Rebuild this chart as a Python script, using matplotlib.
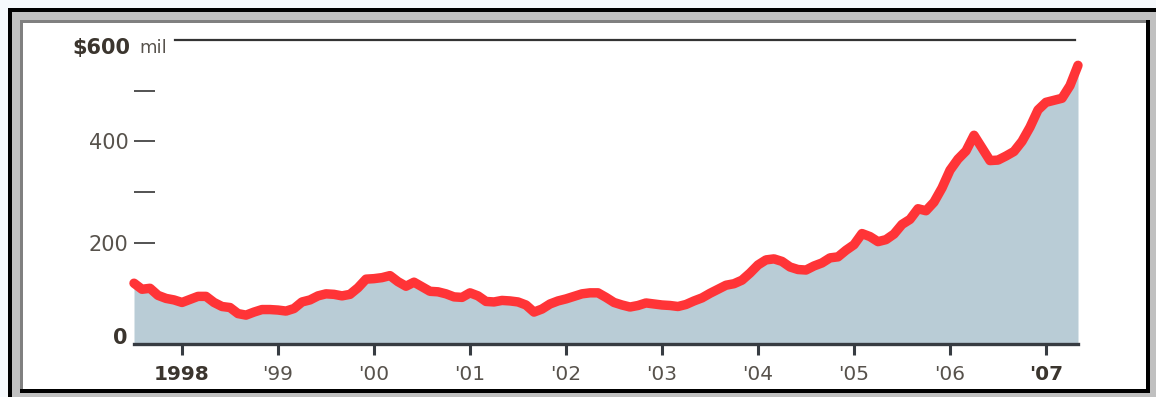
import numpy as np
import matplotlib
matplotlib.use('Agg')
import matplotlib.pyplot as plt
from matplotlib.patches import Rectangle

# monthly values, Jul 1997 .. May 2007, in $ millions
start_year = 1997.5
values = [120, 108, 110, 96, 90, 87, 82, 88, 94, 94, 82, 74,
          72, 60, 57, 63, 68, 68, 67, 65, 70, 83, 87, 95,
          99, 98, 95, 98, 111, 128, 129, 131, 135, 123, 114, 122,
          113, 104, 103, 99, 93, 92, 101, 95, 84, 83, 86, 85,
          83, 77, 63, 69, 79, 85, 89, 94, 99, 101, 101, 92,
          82, 77, 73, 76, 81, 79, 77, 76, 74, 78, 85, 91,
          100, 108, 116, 119, 126, 140, 156, 166, 168, 163, 152, 147,
          146, 154, 160, 170, 172, 185, 196, 218, 212, 202, 206, 217,
          236, 246, 267, 263, 280, 308, 343, 365, 381, 412, 387, 362,
          363, 371, 380, 400, 428, 462, 477, 481, 485, 510, 550]
years = [1998, 1999, 2000, 2001, 2002, 2003, 2004, 2005, 2006, 2007]
year_labels = ['1998', "'99", "'00", "'01", "'02", "'03", "'04", "'05", "'06", "'07"]
bold_years = [1998, 2007]

x = start_year + np.arange(len(values))/12.0
vals = np.array(values, dtype=float)

W, H = 1156, 397
fig = plt.figure(figsize=(W/100, H/100), dpi=100)
fig.patch.set_facecolor('#f6f9fc')

def prect(x0, y0, x1, y1, c):
    # rectangle in pixel coords (y down from top)
    fig.patches.append(Rectangle((x0/W, 1 - y1/H), (x1-x0)/W, (y1-y0)/H,
                                 transform=fig.transFigure, facecolor=c,
                                 edgecolor='none', zorder=-10))

# bevelled frame
prect(8, 8, W, H, '#c0c0c0')
prect(8, 8, W, 12, '#000000')
prect(8, 8, 12, H, '#000000')
prect(20, 20, 1146, 23, '#808080')
prect(20, 20, 23, 390, '#808080')
prect(23, 23, 1146, 389, '#ffffff')
prect(1146, 20, 1150, 393, '#000000')
prect(20, 389, 1150, 393, '#000000')

ax_l, ax_r, ax_t, ax_b = 134, 1078, 40, 344
ax = fig.add_axes([ax_l/W, 1 - ax_b/H, (ax_r-ax_l)/W, (ax_b-ax_t)/H])
ax.set_zorder(1)
ax.set_facecolor('none')
ax.set_xlim(x[0], x[-1])
ax.set_ylim(0, 600)

ax.fill_between(x, vals, 0, color='#b9ccd6', lw=0, zorder=1)
ax.plot(x, vals, color='#ff3437', lw=6.8, solid_capstyle='round',
        solid_joinstyle='round', clip_on=False, zorder=3)

# line across the top at 600
ax.axhline(600, xmin=(175-ax_l)/(ax_r-ax_l), xmax=(1075-ax_l)/(ax_r-ax_l),
           color='#333333', lw=1.6, clip_on=False)

for s in ['top', 'right', 'left']:
    ax.spines[s].set_visible(False)
ax.spines['bottom'].set_color('#373c42')
ax.spines['bottom'].set_linewidth(2.4)
ax.spines['bottom'].set_zorder(4)

ax.set_yticks([200, 300, 400, 500])
ax.set_yticklabels(['200', '', '400', ''])
ax.tick_params(axis='y', direction='in', length=15, width=1.3, color='#444444',
               pad=4, labelsize=15, labelcolor='#57524c')
for t in ax.yaxis.get_major_ticks():
    t.tick1line.set_zorder(5)

ax.set_xticks(years)
ax.set_xticklabels(year_labels)
ax.tick_params(axis='x', direction='out', length=8, width=2.2, color='#373c42',
               pad=7, labelsize=14.5, labelcolor='#57524c')
for lab, yr in zip(ax.get_xticklabels(), years):
    if yr in bold_years:
        lab.set_fontweight('bold')
        lab.set_color('#3b352e')

fig.text(130/W, 1 - 48/H, '$600', ha='right', va='center', fontsize=15,
         fontweight='bold', color='#3b352e')
fig.text(139/W, 1 - 48/H, 'mil', ha='left', va='center', fontsize=13,
         color='#57524c')
fig.text(127/W, 1 - 338/H, '0', ha='right', va='center', fontsize=15,
         fontweight='bold', color='#3b352e')

fig.savefig('out.png', dpi=100, facecolor=fig.get_facecolor())
